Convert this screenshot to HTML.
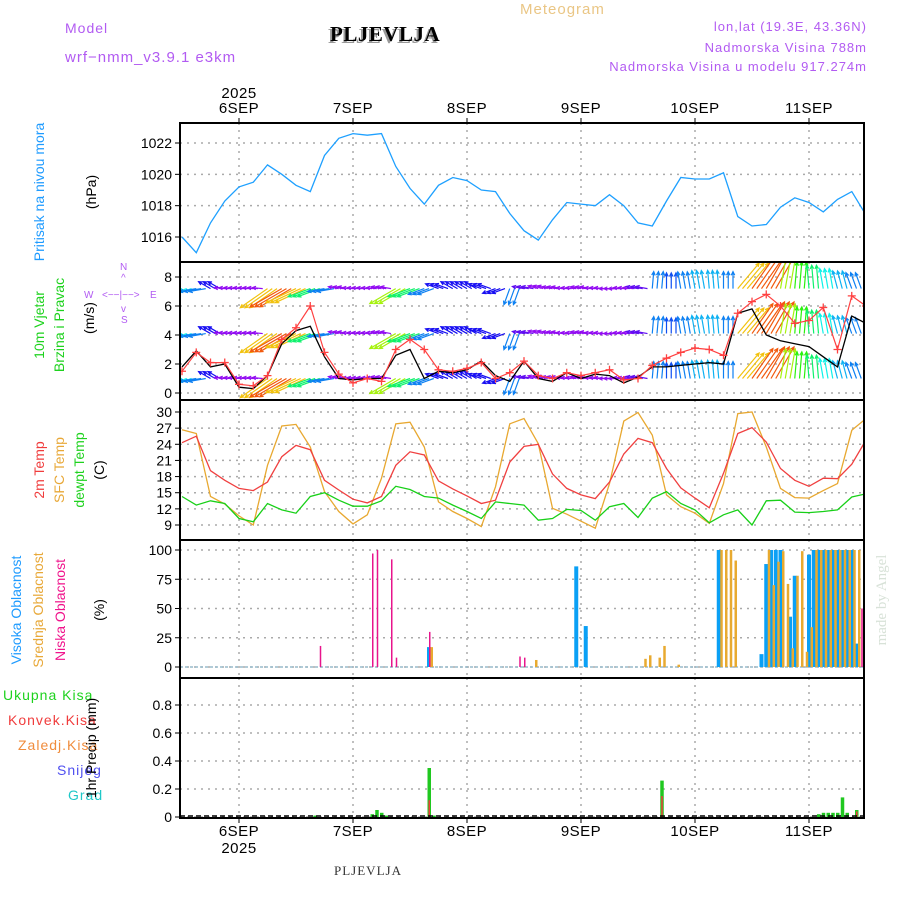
<!DOCTYPE html>
<html><head><meta charset="utf-8"><style>
html,body{margin:0;padding:0;background:#fff}
svg{display:block;font-family:"Liberation Sans",sans-serif}
</style></head><body>
<svg id="c" width="900" height="900" viewBox="0 0 900 900" xmlns="http://www.w3.org/2000/svg">
<g font-size="14" letter-spacing="1">
<text x="65" y="33" fill="#b25bf2">Model</text>
<text x="65" y="62" fill="#b25bf2" font-size="15">wrf−nmm_v3.9.1  e3km</text>
<text x="328" y="43" font-family="Liberation Serif,serif" font-weight="bold" font-size="21" fill="#999" letter-spacing="0.5">PLJEVLJA</text>
<text x="330" y="41" font-family="Liberation Serif,serif" font-weight="bold" font-size="21" fill="#000" letter-spacing="0.5">PLJEVLJA</text>
<text x="520" y="14" fill="#eac685" font-size="15">Meteogram</text>
<text x="867" y="31" fill="#b25bf2" text-anchor="end" font-size="13">lon,lat (19.3E, 43.36N)</text>
<text x="867" y="52" fill="#b25bf2" text-anchor="end" font-size="13">Nadmorska Visina 788m</text>
<text x="867" y="71" fill="#b25bf2" text-anchor="end" font-size="13">Nadmorska Visina u modelu 917.274m</text>
</g>
<g id="plots"></g>
<g font-size="14">
<text transform="translate(44,192) rotate(-90)" text-anchor="middle" fill="#1e9bff">Pritisak na nivou mora</text>
<text transform="translate(96,192) rotate(-90)" text-anchor="middle" fill="#000">(hPa)</text>
<text transform="translate(44,325) rotate(-90)" text-anchor="middle" fill="#1ed21e">10m Vjetar</text>
<text transform="translate(64,325) rotate(-90)" text-anchor="middle" fill="#1ed21e">Brzina i Pravac</text>
<text transform="translate(94,318) rotate(-90)" text-anchor="middle" fill="#000">(m/s)</text>
<g fill="#b25bf2" font-size="10">
<text x="84" y="298">W</text><text x="102" y="298">&lt;−−|−−&gt;</text><text x="150" y="298">E</text>
<text x="120" y="270">N</text>
<text x="121" y="281">^</text>
<text x="121" y="312">v</text>
<text x="121" y="323">S</text>
</g>
<text transform="translate(44,470) rotate(-90)" text-anchor="middle" fill="#f03c3c">2m Temp</text>
<text transform="translate(64,470) rotate(-90)" text-anchor="middle" fill="#e8a838">SFC Temp</text>
<text transform="translate(84,470) rotate(-90)" text-anchor="middle" fill="#1ed21e">dewpt Temp</text>
<text transform="translate(104,470) rotate(-90)" text-anchor="middle" fill="#000">(C)</text>
<text transform="translate(21,610) rotate(-90)" text-anchor="middle" fill="#1e9bff">Visoka Oblacnost</text>
<text transform="translate(43,610) rotate(-90)" text-anchor="middle" fill="#e8a838">Srednja Oblacnost</text>
<text transform="translate(65,610) rotate(-90)" text-anchor="middle" fill="#f0148c">Niska Oblacnost</text>
<text transform="translate(104,610) rotate(-90)" text-anchor="middle" fill="#000">(%)</text>
<text x="3" y="700" fill="#1ed21e" letter-spacing="1">Ukupna Kisa</text>
<text x="8" y="725" fill="#f03c3c" letter-spacing="1">Konvek.Kisa</text>
<text x="18" y="750" fill="#f08c3c" letter-spacing="1">Zaledj.Kisa</text>
<text x="57" y="775" fill="#5050f0" letter-spacing="1">Snijeg</text>
<text x="68" y="800" fill="#1ec8c8" letter-spacing="1">Grad</text>
<text transform="translate(96,748) rotate(-90)" text-anchor="middle" fill="#000">1hr Precip (mm)</text>
<text transform="translate(886,600) rotate(-90)" text-anchor="middle" fill="#d8e2d8" font-family="Liberation Serif,serif" font-size="15">made by Angel</text>
<text x="368" y="875" text-anchor="middle" font-family="Liberation Serif,serif" font-size="13" fill="#333" letter-spacing="1">PLJEVLJA</text>
</g>
</svg>
<script>
// time axis: hours relative to 6SEP 00:00
const dayLabels = ["6SEP","7SEP","8SEP","9SEP","10SEP","11SEP"];
const t3Start = -12; // 3-hourly series start hour
const pressure = [1016.0,1015.0,1016.9,1018.3,1019.2,1019.5,1020.6,1020.0,1019.3,1018.9,1021.2,1022.3,1022.6,1022.5,1022.6,1020.5,1019.1,1018.1,1019.3,1019.8,1019.6,1019.0,1018.9,1017.5,1016.4,1015.8,1017.1,1018.2,1018.1,1018.0,1018.7,1018.0,1016.9,1016.7,1018.3,1019.8,1019.7,1019.7,1020.1,1017.3,1016.7,1016.8,1017.9,1018.5,1018.2,1017.6,1018.4,1018.9,1017.4];
const pressureTicks = [1016,1018,1020,1022];
const sfcTemp = [26.7,26.0,14.3,12.9,10.7,9.0,20.1,27.4,27.7,23.5,15.2,11.5,9.2,10.9,17.7,27.8,28.1,23.5,13.3,11.5,10.2,8.7,16.1,27.8,28.8,24.1,12.1,11.0,9.7,8.4,16.7,28.3,29.9,25.7,14.6,12.4,11.2,9.3,16.7,29.7,30.0,23.5,15.8,14.1,14.0,15.4,16.7,26.6,28.8];
const temp2m = [24.3,25.5,19.1,17.3,15.8,15.4,17.0,21.7,23.8,23.0,17.3,15.5,13.8,13.1,14.3,20.1,22.6,22.0,17.2,15.7,14.4,13.0,13.6,20.7,23.6,24.0,18.5,15.8,14.6,13.9,17.0,22.2,25.1,24.3,19.5,15.9,14.0,12.2,18.6,26.0,27.1,24.4,19.5,17.3,16.2,17.7,17.6,20.3,24.8];
const dewpt = [14.3,12.7,13.5,13.0,10.2,9.6,13.0,11.8,11.2,14.3,15.0,13.6,12.5,12.5,13.5,16.2,15.6,14.3,14.0,12.7,11.5,10.2,13.3,13.0,12.7,9.9,10.2,11.9,11.7,9.9,12.4,13.0,10.4,14.0,15.2,13.0,11.8,9.4,10.9,11.8,9.0,13.5,13.6,11.4,11.3,11.5,11.8,14.2,14.8];
const tempTicks = [9,12,15,18,21,24,27,30];
const gustSpeed = [1.5,2.8,2.1,2.1,0.6,0.5,1.2,3.7,4.5,6.0,2.8,1.3,0.7,1.0,0.8,3.0,3.7,3.0,1.6,1.5,1.7,2.1,1.0,1.4,2.2,1.2,1.0,1.4,1.2,1.4,1.6,0.9,1.0,1.9,2.4,2.8,3.1,3.0,2.6,5.5,6.3,6.8,6.0,4.8,5.0,5.9,3.0,6.7,6.0];
const windSpeed = [1.8,2.9,1.8,2.0,0.4,0.3,1.2,3.4,4.3,4.6,2.5,1.0,0.9,1.0,1.0,2.6,3.0,1.0,1.5,1.4,1.6,2.2,1.2,0.8,2.2,1.0,0.8,1.4,1.0,1.3,1.2,0.7,1.1,1.8,1.8,1.9,2.0,2.1,2.0,5.5,5.8,4.0,3.6,3.4,3.2,2.5,1.8,5.3,4.8];
const arrowDir = [200,190,150,175,175,175,215,210,205,200,190,170,175,175,170,210,200,200,160,150,150,160,200,250,170,165,170,175,170,175,180,175,170,85,90,100,100,95,90,50,55,60,80,85,95,100,105,110,40];
const arrowSpd = [2.5,2.0,1.5,1.0,1.0,1.0,4.5,5.0,4.5,3.0,2.0,1.0,1.0,1.0,1.0,4.0,3.0,2.0,1.5,1.5,1.5,1.5,1.5,2.0,1.2,1.0,1.0,1.0,1.0,1.0,1.0,1.0,1.2,2.0,1.8,2.0,2.2,2.2,2.0,4.5,5.0,5.0,4.0,3.5,3.0,2.5,2.2,2.0,4.0];
const windRows = [7.2,4.1,1.0];
const windTicks = [0,2,4,6,8];
const lowHours = [17,28,29,32,33,40,59,60,131];
const lowVals = [18,97,100,92,8,30,9,8,50];
const midHours = [40,62,85,86,88,89,92,101,102,103,104,111,112,113,114,115,116,117,118,119,120,121,122,123,124,125,126,127,128,129,130];
const midVals = [17,6,7,10,8,18,2,100,100,100,91,100,70,90,99,71,16,78,99,13,34,100,100,100,100,100,100,100,100,100,100];
const highHours = [40,71,73,101,110,111,112,113,114,116,117,120,121,122,123,124,125,126,127,128,129,130];
const highVals = [17,86,35,100,11,88,100,100,100,43,78,96,100,100,100,100,100,100,100,100,100,20];
const cloudTicks = [0,25,50,75,100];
const precipHours = [16,28,29,30,31,40,41,89,122,123,124,125,126,127,128,130];
const precipVals = [0.01,0.02,0.05,0.03,0.01,0.35,0.01,0.26,0.02,0.03,0.03,0.03,0.03,0.14,0.03,0.05];
const convHours = [40,89,130];
const convVals = [0.12,0.15,0.04];
const precipTicks = [0,0.2,0.4,0.6,0.8];

const NS="http://www.w3.org/2000/svg";
const root=document.getElementById('plots');
function mk(tag,attrs,parent){const e=document.createElementNS(NS,tag);for(const k in attrs)e.setAttribute(k,attrs[k]);(parent||root).appendChild(e);return e;}
const X0=180,X1=864;
function xh(t){return 239+t*4.75;}
function lin(v0,y0,v1,y1){return v=>y0+(v-v0)*(y1-y0)/(v1-v0);}
const yP=lin(1016,237,1022,143);
const yW=lin(0,393,8,277);
const yT=lin(9,525,30,412);
const yC=lin(0,667,100,550);
const yR=lin(0,817,0.8,705);
const panels=[
 {name:'pressure',top:123,bot:262,y:yP,ticks:pressureTicks},
 {name:'wind',top:262,bot:400,y:yW,ticks:windTicks},
 {name:'temperature',top:400,bot:540,y:yT,ticks:tempTicks},
 {name:'cloud',top:540,bot:678,y:yC,ticks:cloudTicks},
 {name:'precip',top:678,bot:818,y:yR,ticks:precipTicks}
];
panels.forEach(p=>{
 const g=mk('g',{});
 
 
 p.g=g;
 const cp=mk('clipPath',{id:'clip-'+p.name},g);
 mk('rect',{x:X0,y:p.top,width:X1-X0,height:p.bot-p.top},cp);
 dayLabels.forEach((d,i)=>{const gl=mk('line',{x1:xh(24*i),x2:xh(24*i),y1:p.top,y2:p.bot,stroke:'#aaa','stroke-width':1.5,'stroke-dasharray':'2,5'},g);
  
  });
 p.ticks.forEach(v=>{
  const yy=p.y(v);
  const hl=mk('line',{x1:X0,x2:X1,y1:yy,y2:yy,stroke:'#aaa','stroke-width':1.5,'stroke-dasharray':'2,5'},g);
  
  
  mk('line',{x1:X0-5,x2:X0,y1:yy,y2:yy,stroke:'#000','stroke-width':1},g);
  const tl=mk('text',{x:X0-8,y:yy+5,'text-anchor':'end','font-size':14,fill:'#000'},g);
  tl.textContent=p.name==='precip'?(v===0?'0':v.toFixed(1)):v;
  
  
 });
 p.plot=mk('g',{'clip-path':'url(#clip-'+p.name+')'},g);
});
function t3(k){return t3Start+3*k;}
function line(p,vals,color,name,w){
 const d=vals.map((v,k)=>(k?'L':'M')+xh(t3(k)).toFixed(1)+','+p.y(v).toFixed(1)).join('');
 const e=mk('path',{d:d,fill:'none',stroke:color,'stroke-width':w||1.3},p.plot);
 
 
 return e;
}
// pressure
line(panels[0],pressure,'#1ea0ff','pressure-line');
// wind arrows
function speedColor(s){const h=Math.max(20,275-(s-1)*65);return 'hsl('+h+',90%,50%)';}
const pw=panels[1];
windRows.forEach((lvl,r)=>{
 const rg=mk('g',{},pw.plot);
 
 
 arrowDir.forEach((dir,k)=>{
  for(let h=0;h<3;h++){
   const x=xh(t3(k)+h),y=pw.y(lvl);
   const L=arrowSpd[k]*6.5+4,a=dir*Math.PI/180;
   const x2=x+L*Math.cos(a),y2=y-L*Math.sin(a);
   const c=speedColor(arrowSpd[k]);
   const ah=4,b1=a+Math.PI-0.45,b2=a+Math.PI+0.45;
   const e=mk('path',{d:`M${x},${y}L${x2},${y2}M${x2+ah*Math.cos(b1)},${y2-ah*Math.sin(b1)}L${x2},${y2}L${x2+ah*Math.cos(b2)},${y2-ah*Math.sin(b2)}`,stroke:c,'stroke-width':1.2,fill:'none'},rg);
   
   
  }
 });
});
line(pw,windSpeed,'#000','wind-speed-line',1.3);
line(pw,gustSpeed,'#ff4040','wind-gust-line',1.2);
gustSpeed.forEach((v,k)=>{
 const x=xh(t3(k)),y=pw.y(v);
 const e=mk('path',{d:`M${x-4},${y}H${x+4}M${x},${y-4}V${y+4}`,stroke:'#ff4040','stroke-width':1.3},pw.plot);
 
 
});
// temperatures
line(panels[2],sfcTemp,'#e8a830','sfc-temp-line');
line(panels[2],temp2m,'#f04040','temp-2m-line');
line(panels[2],dewpt,'#18d018','dewpoint-line');
// cloud bars
const pc=panels[3];
mk('line',{x1:X0,x2:X1,y1:667,y2:667,stroke:'#9bc','stroke-width':1.5,'stroke-dasharray':'3,2'},pc.plot);
function bars(p,hours,vals,color,w,off,name){
 hours.forEach((h,i)=>{
  const y=p.y(vals[i]),y0=p.y(0);
  const e=mk('rect',{x:xh(h)+off,y:y,width:w,height:Math.max(0,y0-y),fill:color},p.plot);
  
  
 });
}
bars(pc,highHours,highVals,'#0aa0f5',4,-2,'high-cloud-bar');
bars(pc,midHours,midVals,'#e8aa30',2.5,1.5,'mid-cloud-bar');
bars(pc,lowHours,lowVals,'#e8148c',1.5,0,'low-cloud-bar');
// precip
const pr=panels[4];
bars(pr,precipHours,precipVals,'#20c820',3.5,-1.5,'total-precip-bar');
bars(pr,convHours,convVals,'#f03c3c',1.5,-0.5,'convective-precip-bar');
mk('line',{x1:X0,x2:X1,y1:816,y2:816,stroke:'#000','stroke-width':1.5,'stroke-dasharray':'5,3'},pr.plot);
// borders
panels.forEach(p=>{mk('rect',{x:X0,y:p.top,width:X1-X0,height:p.bot-p.top,fill:'none',stroke:'#000','stroke-width':2},p.g);});
// day labels
dayLabels.forEach((d,i)=>{
 [[113,'top'],[836,'bottom']].forEach(([y,pos])=>{
  const e=mk('text',{x:xh(24*i),y:y,'text-anchor':'middle','font-size':15,fill:'#000','letter-spacing':'0.5'});
  e.textContent=d;
  
  
  mk('line',{x1:xh(24*i),x2:xh(24*i),y1:pos==='top'?118:818,y2:pos==='top'?123:823,stroke:'#000'});
 });
});
[[98,'year-label-top'],[853,'year-label-bottom']].forEach(([y,n])=>{
 const e=mk('text',{x:xh(0),y:y,'text-anchor':'middle','font-size':15,fill:'#000','letter-spacing':'0.5'});
 e.textContent='2025';
 
 
});
</script>
</body></html>
